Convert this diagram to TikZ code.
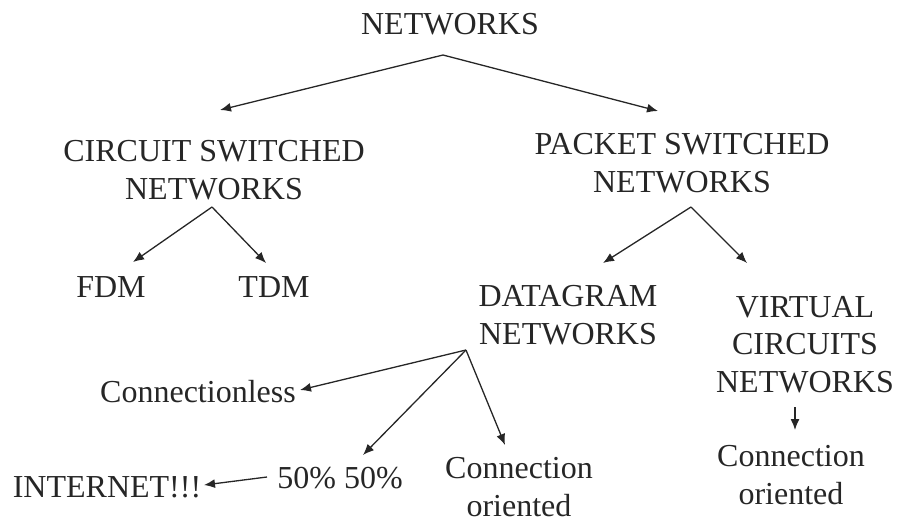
\documentclass[tikz,border=0pt]{standalone}
\usepackage{fontspec}
\setmainfont{Liberation Serif}
\usetikzlibrary{arrows.meta}
\begin{document}
\begin{tikzpicture}[x=1pt,y=-1pt,
  lbl/.style={inner sep=0pt,anchor=base,align=center,font=\fontsize{32}{37.5}\selectfont,text=black!85},
  arr/.style={line width=1.3pt,draw=black!85,-{Latex[length=11pt,width=9pt]}}]
\useasboundingbox (0,0) rectangle (899,523);
% text nodes (anchor base = baseline of last line)
\node[lbl] (net) at (450,34) {NETWORKS};
\node[lbl] (csn) at (214,199) {CIRCUIT SWITCHED\\NETWORKS};
\node[lbl] (psn) at (682,192) {PACKET SWITCHED\\NETWORKS};
\node[lbl] (fdm) at (111,297) {FDM};
\node[lbl] (tdm) at (274,297) {TDM};
\node[lbl] (dgn) at (568,344) {DATAGRAM\\NETWORKS};
\node[lbl] (vcn) at (805,392) {VIRTUAL\\CIRCUITS\\NETWORKS};
\node[lbl] (cl) at (198,402) {Connectionless};
\node[lbl] (fifty) at (340,488) {50\% 50\%};
\node[lbl] (inet) at (107,497) {INTERNET!!!};
\node[lbl] (dco) at (519,516) {Connection\\oriented};
\node[lbl] (vco) at (791,504) {Connection\\oriented};
% connector points
\coordinate (netS) at (443,55);
\coordinate (csnT) at (220,110);
\coordinate (psnT) at (658,111);
\coordinate (csnS) at (212,207);
\coordinate (fdmT) at (133,262);
\coordinate (tdmT) at (266,263);
\coordinate (psnS) at (691,207);
\coordinate (dgnT) at (603,263);
\coordinate (vcnT) at (747,263);
\coordinate (dgnS) at (466,350);
\coordinate (clT) at (300,390);
\coordinate (fiftyT) at (363,455);
\coordinate (dcoT) at (505,445);
\coordinate (fiftyW) at (267,477);
\coordinate (inetT) at (204,485);
\coordinate (vcnS) at (795,407);
\coordinate (vcoT) at (795,430);
% connectors
\draw[arr] (netS) -- (csnT);
\draw[arr] (netS) -- (psnT);
\draw[arr] (csnS) -- (fdmT);
\draw[arr] (csnS) -- (tdmT);
\draw[arr] (psnS) -- (dgnT);
\draw[arr] (psnS) -- (vcnT);
\draw[arr] (dgnS) -- (clT);
\draw[arr] (dgnS) -- (fiftyT);
\draw[arr] (dgnS) -- (dcoT);
\draw[arr] (fiftyW) -- (inetT);
\draw[arr] (vcnS) -- (vcoT);
\end{tikzpicture}
\end{document}
